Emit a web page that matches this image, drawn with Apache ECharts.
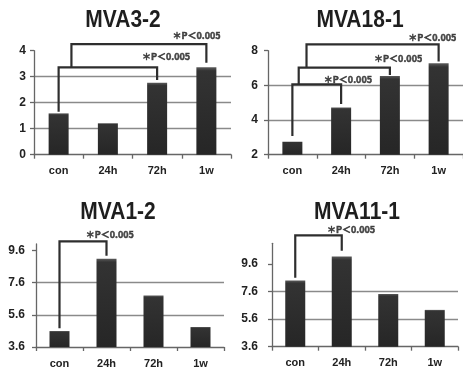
<!DOCTYPE html>
<html>
<head>
<meta charset="utf-8">
<script src="https://cdn.jsdelivr.net/npm/echarts@6/dist/echarts.min.js"></script>
<style>
html,body{margin:0;padding:0;background:#fff;}
#c{width:463px;height:369px;}
</style>
</head>
<body>
<div id="c"></div>
<script>
// ---- data ----
const categories = ['con', '24h', '72h', '1w'];
const titles = ['MVA3-2', 'MVA18-1', 'MVA1-2', 'MVA11-1'];
const valuesMVA3_2 = [1.59, 1.21, 2.77, 3.36];
const valuesMVA18_1 = [2.75, 4.73, 6.54, 7.27];
const valuesMVA1_2 = [4.59, 9.09, 6.80, 4.84];
const valuesMVA11_1 = [8.40, 10.15, 7.43, 6.27];
const ticksMVA3_2 = [0, 1, 2, 3, 4];
const ticksMVA18_1 = [2, 4, 6, 8];
const ticksMVA1_2 = [3.6, 5.6, 7.6, 9.6];
const ticksMVA11_1 = [3.6, 5.6, 7.6, 9.6];
const pLabel = '＊P＜0.005';
// brackets: [fromIndex, toIndex, height, leftLegEnd, rightLegEnd]
const bracketsMVA3_2 = [[0, 2, 3.36, 1.65, 2.87], [0.26, 3, 4.25, 3.36, 3.54]];
const bracketsMVA18_1 = [[0, 1, 6.06, 3.08, 4.93], [0.13, 2, 7.02, 6.06, 6.60], [0.29, 3, 8.37, 7.02, 7.37]];
const bracketsMVA1_2 = [[0, 1, 10.16, 4.76, 9.27]];
const bracketsMVA11_1 = [[0, 1, 11.67, 8.60, 10.56]];
// p-label anchors: [index, value]
const labelsMVA3_2 = [[2.18, 3.76], [2.80, 4.60]];
const labelsMVA18_1 = [[1.14, 6.35], [2.17, 7.56], [2.87, 8.75]];
const labelsMVA1_2 = [[1.07, 10.57]];
const labelsMVA11_1 = [[1.20, 12.09]];

// ---- layout ----
const panels = [
  {values: valuesMVA3_2, ticks: ticksMVA3_2, brackets: bracketsMVA3_2, labels: labelsMVA3_2,
   min: 0, max: 4, grid: {left: 34, top: 50.7, width: 197, height: 104}, title: [123, 21], yMargin: 8},
  {values: valuesMVA18_1, ticks: ticksMVA18_1, brackets: bracketsMVA18_1, labels: labelsMVA18_1,
   min: 2, max: 8, grid: {left: 268, top: 50.7, width: 197, height: 104}, title: [360, 21], yMargin: 10},
  {values: valuesMVA1_2, ticks: ticksMVA1_2, brackets: bracketsMVA1_2, labels: labelsMVA1_2,
   min: 3.6, max: 10.0, grid: {left: 36, top: 244, width: 188, height: 103.7}, title: [118, 213], yMargin: 11},
  {values: valuesMVA11_1, ticks: ticksMVA11_1, brackets: bracketsMVA11_1, labels: labelsMVA11_1,
   min: 3.6, max: 11.1, grid: {left: 272, top: 243.3, width: 186, height: 103.4}, title: [357, 213], yMargin: 14}
];

const FONT = 'Liberation Sans';
const grids = [], xAxes = [], yAxes = [], series = [], graphics = [];
panels.forEach((p, i) => {
  grids.push(Object.assign({containLabel: false}, p.grid));
  // visible category axis
  xAxes.push({
    type: 'category', gridIndex: i, data: categories, position: 'bottom',
    axisLine: {onZero: false, lineStyle: {color: '#666', width: 1.3}},
    axisTick: {show: true, length: 4, lineStyle: {color: '#666', width: 1.3}},
    axisLabel: {color: '#222', fontFamily: FONT, fontWeight: 'bold', fontSize: 11, margin: 11},
    splitLine: {show: false}
  });
  // hidden value axis for annotations (index -> category center)
  xAxes.push({type: 'value', gridIndex: i, min: -0.5, max: 3.5, show: false, position: 'top'});
  yAxes.push({
    type: 'value', gridIndex: i, min: p.min, max: p.max,
    axisLine: {show: true, onZero: false, lineStyle: {color: '#666', width: 1.3}},
    axisTick: {show: true, length: 4, customValues: p.ticks, lineStyle: {color: '#666', width: 1.3}},
    axisLabel: {customValues: p.ticks, color: '#222', fontFamily: FONT, fontWeight: 'bold', fontSize: 12, margin: p.yMargin},
    splitLine: {show: true, showMinLine: false, showMaxLine: false, lineStyle: {color: '#8a8a8a', width: 1.4}}
  });
  series.push({
    type: 'bar', xAxisIndex: i * 2, yAxisIndex: i, data: p.values, barWidth: 20, clip: true,
    itemStyle: {
      color: new echarts.graphic.LinearGradient(0, 0, 0, 1, [
        {offset: 0, color: '#5a5a5a'}, {offset: 0.04, color: '#333'}, {offset: 1, color: '#262626'}
      ])
    },
    z: 2
  });
  p.brackets.forEach(b => {
    series.push({
      type: 'line', xAxisIndex: i * 2 + 1, yAxisIndex: i, clip: false, symbol: 'none', silent: true,
      data: [[b[0], b[3]], [b[0], b[2]], [b[1], b[2]], [b[1], b[4]]],
      lineStyle: {color: '#2e2e2e', width: 2.2, join: 'miter'}, z: 4
    });
  });
  series.push({
    type: 'scatter', xAxisIndex: i * 2 + 1, yAxisIndex: i, clip: false, symbolSize: 0, silent: true,
    data: p.labels,
    label: {show: true, position: 'inside', formatter: pLabel, color: '#222',
            fontFamily: 'Noto Sans CJK JP', fontWeight: 'bold', fontSize: 9,
            textBorderColor: '#222', textBorderWidth: 0.5},
    z: 5
  });
  graphics.push({
    type: 'text', x: p.title[0], y: p.title[1], z: 10, scaleY: 1.1,
    style: {text: titles[i], font: 'bold 21px "' + FONT + '"', fill: '#1e1e1e',
            textAlign: 'center', textVerticalAlign: 'middle', align: 'center', verticalAlign: 'middle'}
  });
});

const chart = echarts.init(document.getElementById('c'), null, {renderer: 'canvas'});
chart.setOption({
  animation: false,
  backgroundColor: '#fff',
  grid: grids, xAxis: xAxes, yAxis: yAxes, series: series, graphic: graphics
});
</script>
</body>
</html>
